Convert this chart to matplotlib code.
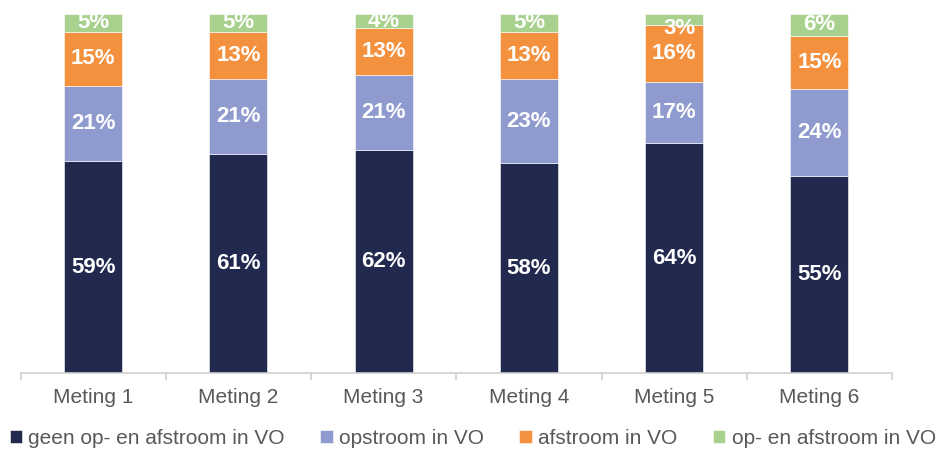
import matplotlib
matplotlib.use("Agg")
import matplotlib.pyplot as plt
import numpy as np

categories = ["Meting 1", "Meting 2", "Meting 3", "Meting 4", "Meting 5", "Meting 6"]
series_names = ["geen op- en afstroom in VO", "opstroom in VO", "afstroom in VO", "op- en afstroom in VO"]
geen = [59, 61, 62, 58.4, 64, 55]
opstroom = [21, 21, 21, 23.4, 17, 24]
afstroom = [15, 13, 13, 13.2, 16, 15]
beide = [5, 5, 4, 5, 3, 6]
colors = ["#22294F", "#8F9BCF", "#F4913E", "#A8D18D"]

plt.rcParams['font.family'] = ['Liberation Sans', 'DejaVu Sans']

fig = plt.figure(figsize=(9.36, 4.51), dpi=100)
ax = fig.add_axes([0.022, 0.173, 0.931, 0.796])

x = np.arange(len(categories))
bottom = np.zeros(len(categories))
for si, (vals, name, col) in enumerate(zip([geen, opstroom, afstroom, beide], series_names, colors)):
    vals = np.array(vals, dtype=float)
    ax.bar(x, vals, width=0.4, bottom=bottom, color=col, label=name,
           edgecolor="white", linewidth=0.4)
    for xi, b, v in zip(x, bottom, vals):
        dx, dy = 0.0, 0.0
        if v < 4:
            dx, dy = 0.04, -2.5
        ax.text(xi + dx, b + v / 2 + dy, f"{round(v)}%", ha="center", va="center",
                color="white", fontsize=16, fontweight="bold")
    bottom += vals

ax.set_xlim(-0.5, len(categories) - 0.5)
ax.set_ylim(0, 100)
ax.set_yticks([])
for s in ["top", "right", "left"]:
    ax.spines[s].set_visible(False)
ax.spines["bottom"].set_color("#D0D0D0")
ax.spines["bottom"].set_linewidth(1.2)
ax.set_xticks(x)
ax.set_xticklabels(categories, fontsize=15, color="#595959")
ax.tick_params(axis="x", which="major", length=0, pad=11)
ax.set_xticks(np.arange(-0.5, len(categories)), minor=True)
ax.tick_params(axis="x", which="minor", length=5, color="#D0D0D0", width=1.2)

fig.legend(loc="lower center", bbox_to_anchor=(0.505, -0.035), ncol=4, frameon=False,
           fontsize=15, handlelength=0.6, handleheight=0.6, handletextpad=0.3,
           columnspacing=1.7, labelcolor="#595959")

fig.savefig("out.png", dpi=100)
